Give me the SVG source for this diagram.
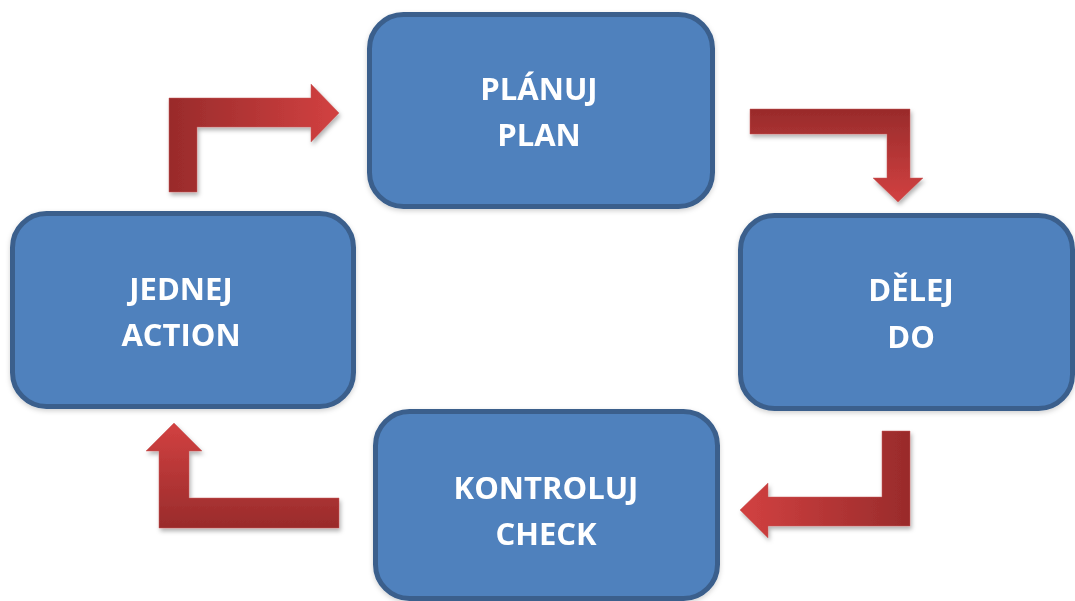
<svg xmlns="http://www.w3.org/2000/svg" width="1075" height="601" viewBox="0 0 1075 601">
  <style>
    .box { fill: #4F81BD; stroke: #3A5F8C; stroke-width: 5; }
    .label { font-family: "Open Sans", "Liberation Sans", sans-serif; font-weight: 700; font-size: 31px; fill: #FFFFFF; text-anchor: middle; }
    .arrow { stroke: #C65A58; stroke-width: 0.8; stroke-opacity: 0.6; }
  </style>
  <defs>
    <filter id="shadow" x="-20%" y="-20%" width="140%" height="150%">
      <feDropShadow dx="1.5" dy="3" stdDeviation="2.2" flood-color="#000" flood-opacity="0.3"/>
    </filter>
    <filter id="boxshadow" x="-10%" y="-10%" width="120%" height="130%">
      <feDropShadow dx="0" dy="2" stdDeviation="2.5" flood-color="#000" flood-opacity="0.18"/>
    </filter>
    <linearGradient id="g1" gradientUnits="userSpaceOnUse" x1="169" y1="0" x2="339" y2="0">
      <stop offset="0" stop-color="#992B2B"/>
      <stop offset="1" stop-color="#D24141"/>
    </linearGradient>
    <linearGradient id="g2" gradientUnits="userSpaceOnUse" x1="0" y1="109" x2="0" y2="202">
      <stop offset="0" stop-color="#992B2B"/>
      <stop offset="1" stop-color="#D24141"/>
    </linearGradient>
    <linearGradient id="g3" gradientUnits="userSpaceOnUse" x1="910" y1="0" x2="740" y2="0">
      <stop offset="0" stop-color="#992B2B"/>
      <stop offset="1" stop-color="#D24141"/>
    </linearGradient>
    <linearGradient id="g4" gradientUnits="userSpaceOnUse" x1="0" y1="528" x2="0" y2="423">
      <stop offset="0" stop-color="#992B2B"/>
      <stop offset="1" stop-color="#D24141"/>
    </linearGradient>
  </defs>

  <g id="connectors" filter="url(#shadow)">
    <path class="arrow" fill="url(#g1)" d="M169,192 L169,98 L311,98 L311,84 L339,113 L311,142 L311,127 L197,127 L197,192 Z"/>
    <path class="arrow" fill="url(#g2)" d="M750,109 L910,109 L910,178 L923,178 L898,202 L873,178 L887,178 L887,134 L750,134 Z"/>
    <path class="arrow" fill="url(#g3)" d="M882,431 L910,431 L910,526 L768,526 L768,538 L740,510 L768,483 L768,497 L882,497 Z"/>
    <path class="arrow" fill="url(#g4)" d="M339,498 L339,528 L159,528 L159,451 L146,451 L174,423 L202,451 L189,451 L189,498 Z"/>
  </g>

  <g id="plan" filter="url(#boxshadow)">
    <rect class="box" x="369.5" y="14.5" width="343" height="192" rx="34" ry="34"/>
    <text class="label" x="539" y="100">PLÁNUJ</text>
    <text class="label" x="539" y="146">PLAN</text>
  </g>

  <g id="do" filter="url(#boxshadow)">
    <rect class="box" x="740.5" y="215.5" width="332" height="193" rx="34" ry="34"/>
    <text class="label" x="911" y="301">DĚLEJ</text>
    <text class="label" x="911" y="348">DO</text>
  </g>

  <g id="check" filter="url(#boxshadow)">
    <rect class="box" x="375.5" y="411.5" width="342" height="187" rx="34" ry="34"/>
    <text class="label" x="546" y="499">KONTROLUJ</text>
    <text class="label" x="546" y="545">CHECK</text>
  </g>

  <g id="action" filter="url(#boxshadow)">
    <rect class="box" x="12.5" y="213.5" width="341" height="193" rx="34" ry="34"/>
    <text class="label" x="181" y="300">JEDNEJ</text>
    <text class="label" x="181" y="346">ACTION</text>
  </g>
</svg>
